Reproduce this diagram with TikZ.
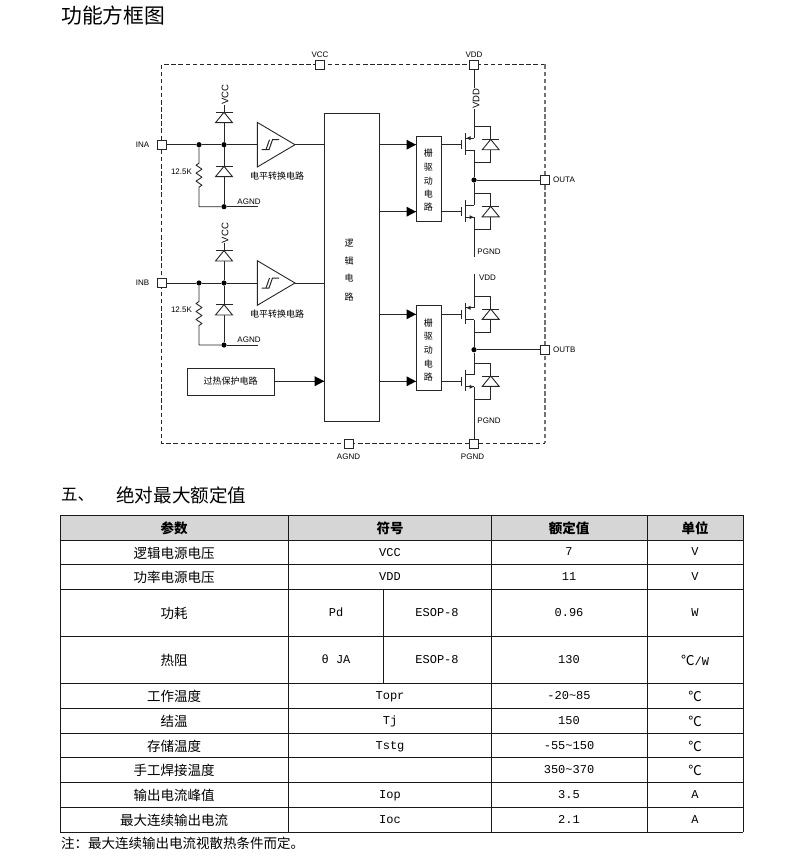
\documentclass[tikz,border=0pt]{standalone}
\usepackage{fontspec}
\setmainfont{Liberation Sans}
\newfontfamily\cjk{Noto Sans CJK SC}
\newfontfamily\tmono{Liberation Mono}
\tikzset{
  wire/.style={line width=0.9pt,draw=black!85},
  pinbox/.style={draw=black!85,line width=0.9pt,fill=white,minimum size=9pt,inner sep=0pt},
  dotj/.style={circle,fill=black,minimum size=5.2pt,inner sep=0pt},
  lbl/.style={inner sep=0pt,font=\fontsize{8}{8}\selectfont},
  rlbl/.style={inner sep=0pt,rotate=90,font=\fontsize{9.5}{10}\selectfont},
  cn/.style={inner sep=0pt,font=\cjk\fontsize{9}{10}\selectfont},
  block/.style={draw=black!85,line width=0.9pt,fill=white,inner sep=0pt,anchor=north west},
  tline/.style={line width=0.85pt,draw=black!90},
  tcn/.style={inner sep=0pt,font=\cjk\fontsize{13.5}{14}\selectfont},
  tcnb/.style={inner sep=0pt,font=\cjk\bfseries\fontsize{13.5}{14}\selectfont},
  tlat/.style={inner sep=0pt,text height=8pt,text depth=2pt,font=\tmono\fontsize{12}{14}\selectfont},
}
% diode: x, y of the bar
\newcommand\dioded[2]{%
  \draw[wire,fill=white] (#1,#2)--(#1-8.5,#2+10.4)--(#1+8.5,#2+10.4)--cycle;
  \draw[wire] (#1-8.5,#2)--(#1+8.5,#2);}
% input stage: name suffix, y of input line
\newcommand\inputstage[2]{%
  \node[dotj] (ja#1) at (199,#2) {};
  \node[dotj] (jb#1) at (224,#2) {};
  \node[dotj] (jc#1) at (224,#2+62) {};
  \coordinate (gnd#1) at (258,#2+62);
  \coordinate (vcct#1) at (224,#2-40);
  \draw[wire] (jb#1)--(vcct#1);
  \draw[wire] (jb#1)--(jc#1);
  \draw[wire] (jc#1)--(gnd#1);
  \dioded{224}{#2-32.4}
  \dioded{224}{#2+21.6}
  \draw[wire,line join=round] (ja#1)--(199,#2+18.5)--++(-3,2)--++(6,4)--++(-6,4)--++(6,4)--++(-6,4)--++(6,4)--++(-3,2)--(199,#2+62)--(jc#1);
  \node[rlbl] (lv#1) at (225,#2-50) {VCC};
  \node[lbl] (lag#1) at (249,#2+57) {AGND};
  \node[lbl] (lr#1) at (181.5,#2+27) {12.5K};
  \draw[wire] (257.3,#2-22.3)--(257.3,#2+22.3)--(295,#2)--cycle;
  \draw[line width=1pt,draw=black!85] (261.5,#2+5)--(269,#2+5)--(272.5,#2-5)--(279,#2-5);
  \draw[line width=1pt,draw=black!85] (266,#2+5)--(269.5,#2-5);
  \node[cn] (lc#1) at (277,#2+31.5) {电平转换电路};
}
% FET + body diode: gate y, suffix, arrow dir 1: to channel, 0: to line
\newcommand\fetshape[3]{%
  \draw[wire] (461.7,#1-4.3)--(461.7,#1+4.3);
  \draw[wire] (465.7,#1-11.5)--(465.7,#1+10);
  \draw[wire] (465.7,#1-6.5)--(474,#1-6.5);
  \draw[wire] (465.7,#1+5.5)--(474,#1+5.5);
  \draw[wire] (474,#1-18)--(490.7,#1-18)--(490.7,#1+18)--(474,#1+18);
  \dioded{490.7}{#1-5.3}
  \ifnum#3=1
    \fill[black!85] (466.5,#1-6.5)--(470.5,#1-8.5)--(470.5,#1-4.5)--cycle;
  \else
    \fill[black!85] (473.5,#1+5.5)--(469.5,#1+3.5)--(469.5,#1+7.5)--cycle;
  \fi
}
\newcommand\tarrow[2]{% tip triangle ending at x=#1, y=#2
  \fill[black] (#1,#2)--(#1-9.5,#2-5)--(#1-9.5,#2+5)--cycle;}
\begin{document}
\begin{tikzpicture}[x=1pt,y=-1pt]
\useasboundingbox (0,0) rectangle (793,861);
\fill[white] (0,0) rectangle (793,861);
\node[inner sep=0pt,anchor=west,font=\cjk\fontsize{20.8}{22}\selectfont] (title) at (61,16) {功能方框图};
% dashed frame
\draw[line width=0.9pt,draw=black!85,dash pattern=on 4.5pt off 2.6pt] (545,64.5)--(161.7,64.5)--(161.7,443.4)--(545,443.4);
\draw[line width=1.1pt,draw=black!55,dash pattern=on 4.5pt off 2.6pt] (545,64.5)--(545,443.4);
% pins
\node[pinbox] (vcc) at (320,64.5) {};
\node[pinbox] (vdd) at (474,64.5) {};
\node[pinbox] (ina) at (162,144.7) {};
\node[pinbox] (inb) at (162,283) {};
\node[pinbox] (outa) at (545,180) {};
\node[pinbox] (outb) at (545,349.7) {};
\node[pinbox] (agnd) at (349,443.5) {};
\node[pinbox] (pgnd) at (474,443.5) {};
\node[lbl] (tvcc) at (320,55) {VCC};
\node[lbl] (tvdd) at (474,55) {VDD};
\node[lbl,anchor=east] (tina) at (149.5,145) {INA};
\node[lbl,anchor=east] (tinb) at (149.5,283) {INB};
\node[lbl,anchor=west] (touta) at (553,180) {OUTA};
\node[lbl,anchor=west] (toutb) at (553,350) {OUTB};
\node[lbl] (tagnd) at (348.5,457) {AGND};
\node[lbl] (tpgnd) at (472.5,457) {PGND};
% input stages
\inputstage{A}{144.7}
\inputstage{B}{283}
\draw[wire] (ina)--(jaA); \draw[wire] (jaA)--(jbA); \draw[wire] (jbA)--(257.3,144.7);
\draw[wire] (inb)--(jaB); \draw[wire] (jaB)--(jbB); \draw[wire] (jbB)--(257.3,283);
% logic
\node[block,minimum width=54.5pt,minimum height=308pt] (logic) at (324.2,113.3) {};
\draw[wire] (295,144.7)--(logic.west |- 0,144.7);
\draw[wire] (295,283)--(logic.west |- 0,283);
\node[cn] (l1) at (349,243) {逻};
\node[cn] (l2) at (349,261) {辑};
\node[cn] (l3) at (349,278.5) {电};
\node[cn] (l4) at (349,297) {路};
% over-temperature
\node[block,minimum width=87.6pt,minimum height=27pt] (ot) at (186.7,367.7) {};
\node[cn] (ott) at (230.5,381) {过热保护电路};
\draw[wire] (ot.east)--(logic.west |- ot.east);
\tarrow{324.2}{381.2}
% gate drivers
\node[block,minimum width=25.3pt,minimum height=85pt] (gda) at (415.7,135.7) {};
\node[block,minimum width=25.3pt,minimum height=84.7pt] (gdb) at (415.7,305.3) {};
\foreach \o/\s in {0/a,169.6/b}{
  \node[cn] (g1\s) at (428.3,153+\o) {栅};
  \node[cn] (g2\s) at (428.3,167+\o) {驱};
  \node[cn] (g3\s) at (428.3,180.7+\o) {动};
  \node[cn] (g4\s) at (428.3,194+\o) {电};
  \node[cn] (g5\s) at (428.3,207.5+\o) {路};
  \draw[wire] (378.7,144.7+\o)--(415.7,144.7+\o);
  \draw[wire] (378.7,211.7+\o)--(415.7,211.7+\o);
  \tarrow{416}{144.7+\o}
  \tarrow{416}{211.7+\o}
  \draw[wire] (441,144.7+\o)--(461.7,144.7+\o);
  \draw[wire] (441,211.7+\o)--(461.7,211.7+\o);
  \fetshape{144.7+\o}{\s}{1}
  \fetshape{211.7+\o}{\s}{0}
}
% main lines
\node[dotj] (ma) at (474,180) {};
\node[dotj] (mb) at (474,349.7) {};
\draw[wire] (vdd)--(474,138.2);
\draw[wire] (474,150.2)--(ma);
\draw[wire] (ma)--(474,205.2);
\draw[wire] (474,217.2)--(474,256.7);
\draw[wire] (474,274.3)--(474,307.8);
\draw[wire] (474,319.8)--(mb);
\draw[wire] (mb)--(474,374.8);
\draw[wire] (474,386.8)--(pgnd);
\draw[wire] (ma)--(outa);
\draw[wire] (mb)--(outb);
\node[rlbl,fill=white] (lvdd) at (476,98.5) {VDD};
\node[lbl] (lpa) at (489,252) {PGND};
\node[lbl] (lpb) at (489,421) {PGND};
\node[lbl] (lvb) at (487.5,278) {VDD};
% heading
\node[inner sep=0pt,anchor=west,font=\cjk\fontsize{16.5}{18}\selectfont] (h5) at (61,495) {五、};
\node[inner sep=0pt,anchor=west,font=\cjk\fontsize{18.6}{20}\selectfont] (h5b) at (116,495) {绝对最大额定值};
% table
\fill[black!16] (60,515) rectangle (743.3,540);
\foreach \y in {515,540,564.3,589,636.5,683.7,708.3,733.3,757.7,782.3,807.3,832}
  \draw[tline] (60,\y)--(743.3,\y);
\foreach \x in {60,288,491.3,647.3,743.3}
  \draw[tline] (\x,515)--(\x,832);
\draw[tline] (383.7,589)--(383.7,683.7);
\node[tcnb] (c01) at (174,528) {参数};
\node[tcnb] (c02) at (390,528) {符号};
\node[tcnb] (c03) at (569,528) {额定值};
\node[tcnb] (c04) at (695,528) {单位};
\node[tcn] (c11) at (174,553) {逻辑电源电压};
\node[tlat] (c12) at (390,553) {VCC};
\node[tlat] (c13) at (569,552) {7};
\node[tlat] (c14) at (695,552) {V};
\node[tcn] (c21) at (174,577) {功率电源电压};
\node[tlat] (c22) at (390,577) {VDD};
\node[tlat] (c23) at (569,577) {11};
\node[tlat] (c24) at (695,577) {V};
\node[tcn] (c31) at (174,613) {功耗};
\node[tlat] (c32) at (336,613) {Pd};
\node[tlat] (c33) at (437,613) {ESOP-8};
\node[tlat] (c34) at (569,613) {0.96};
\node[tlat] (c35) at (695,613) {W};
\node[tcn] (c41) at (174,660) {热阻};
\node[tlat] (c42) at (336,660) {θ JA};
\node[tlat] (c43) at (437,660) {ESOP-8};
\node[tlat] (c44) at (569,660) {130};
\node[tcn] (c45) at (695,660) {℃{\tmono\fontsize{12}{14}\selectfont/W}};
\node[tcn] (c51) at (174,696) {工作温度};
\node[tlat] (c52) at (390,696) {Topr};
\node[tlat] (c53) at (569,696) {-20\symbol{126}85};
\node[tcn] (c54) at (695,696) {℃};
\node[tcn] (c61) at (174,721) {结温};
\node[tlat] (c62) at (390,721) {Tj};
\node[tlat] (c63) at (569,721) {150};
\node[tcn] (c64) at (695,721) {℃};
\node[tcn] (c71) at (174,746) {存储温度};
\node[tlat] (c72) at (390,746) {Tstg};
\node[tlat] (c73) at (569,746) {-55\symbol{126}150};
\node[tcn] (c74) at (695,746) {℃};
\node[tcn] (c81) at (174,770) {手工焊接温度};
\node[tlat] (c83) at (569,770) {350\symbol{126}370};
\node[tcn] (c84) at (695,770) {℃};
\node[tcn] (c91) at (174,795) {输出电流峰值};
\node[tlat] (c92) at (390,795) {Iop};
\node[tlat] (c93) at (569,795) {3.5};
\node[tlat] (c94) at (695,795) {A};
\node[tcn] (ca1) at (174,820) {最大连续输出电流};
\node[tlat] (ca2) at (390,820) {Ioc};
\node[tlat] (ca3) at (569,820) {2.1};
\node[tlat] (ca4) at (695,820) {A};
\node[tcn,anchor=west] (note) at (61,843) {注：最大连续输出电流视散热条件而定。};
\end{tikzpicture}
\end{document}
